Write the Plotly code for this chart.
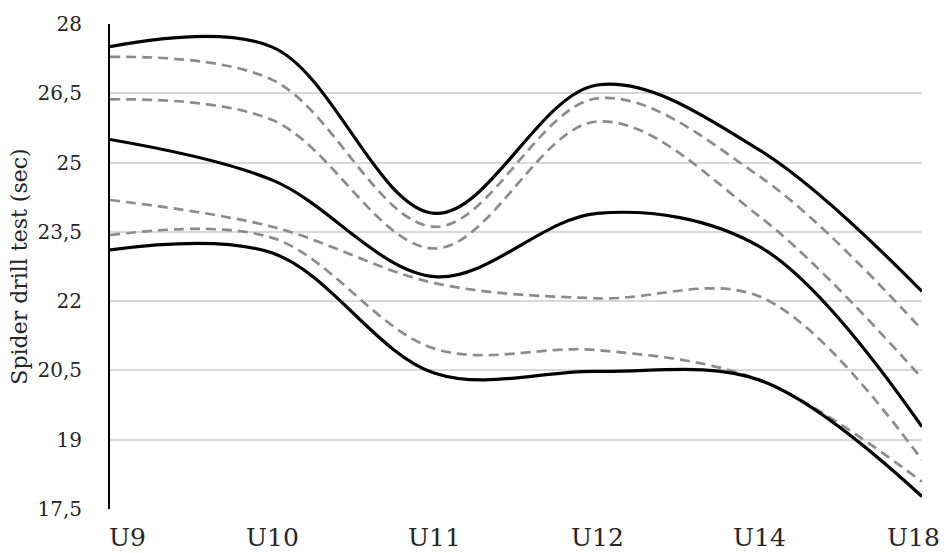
import plotly.graph_objects as go

categories = ["U9", "U10", "U11", "U12", "U14", "U18"]
y_ticks = [17.5, 19, 20.5, 22, 23.5, 25, 26.5, 28]
y_tick_labels = ["17,5", "19", "20,5", "22", "23,5", "25", "26,5", "28"]

black_top = [27.51, 27.50, 23.90, 26.68, 25.27, 22.21]
dash_1 = [27.29, 26.79, 23.61, 26.39, 24.70, 21.38]
dash_2 = [26.37, 25.92, 23.14, 25.89, 23.83, 20.33]
black_mid = [25.50, 24.62, 22.53, 23.90, 23.18, 19.28]
dash_3 = [24.19, 23.61, 22.39, 22.06, 22.10, 18.56]
dash_4 = [23.43, 23.37, 20.97, 20.94, 20.29, 18.09]
black_bot = [23.11, 23.04, 20.44, 20.48, 20.29, 17.77]

x = list(range(len(categories)))
FONT = "DejaVu Serif"

fig = go.Figure()
dashed = [dash_1, dash_2, dash_3, dash_4]
solid = [black_top, black_mid, black_bot]
for s in dashed:
    fig.add_trace(go.Scatter(x=x, y=s, mode="lines",
                             line=dict(color="rgb(140,140,140)", width=2.7, dash="10px,6px",
                                       shape="spline", smoothing=1.0),
                             showlegend=False, hoverinfo="skip"))
for s in solid:
    fig.add_trace(go.Scatter(x=x, y=s, mode="lines",
                             line=dict(color="black", width=3.2, shape="spline", smoothing=1.0),
                             showlegend=False, hoverinfo="skip"))

for i, c in enumerate(categories):
    anchor = "center"
    shift = 0
    if i == 0:
        anchor = "left"
        shift = -3
    elif i == len(categories) - 1:
        anchor = "right"
        shift = 20
    fig.add_annotation(x=i, y=0, xref="x", yref="paper", text=c, showarrow=False,
                       xanchor=anchor, yanchor="top", yshift=-12, xshift=shift,
                       font=dict(family=FONT, size=25, color="#262626"))

fig.update_layout(
    width=947, height=553,
    margin=dict(l=110, r=25, t=24, b=44),
    paper_bgcolor="white", plot_bgcolor="white",
    font=dict(family=FONT, color="#262626"),
)
fig.update_xaxes(range=[0, 5], showticklabels=False, showgrid=False, zeroline=False,
                 showline=False, fixedrange=True)
fig.update_yaxes(range=[17.5, 28], tickvals=y_ticks, ticktext=y_tick_labels,
                 showgrid=True, gridcolor="#d9d9d9", gridwidth=1.5,
                 zeroline=False, showline=True, linecolor="black", linewidth=2,
                 ticks="", ticklabelstandoff=22,
                 tickfont=dict(family=FONT, size=20, color="#262626"),
                 title=dict(text="Spider drill test (sec)", standoff=4,
                            font=dict(family=FONT, size=22, color="#262626")),
                 automargin=False)

fig.write_html("out.html")
